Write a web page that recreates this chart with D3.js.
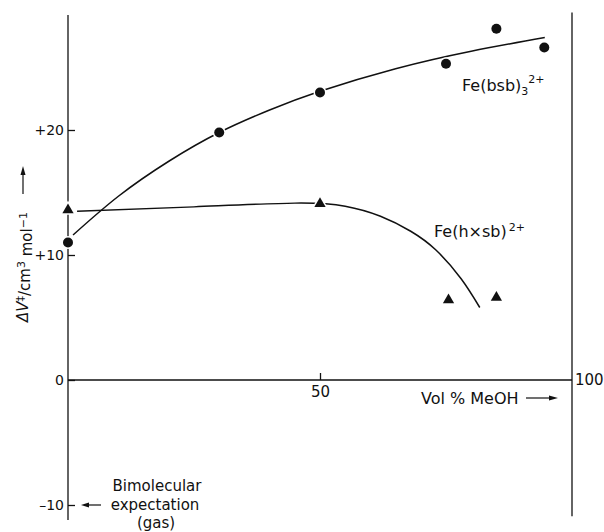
<!DOCTYPE html>
<html>
<head>
<meta charset="utf-8">
<script src="https://cdn.jsdelivr.net/npm/d3@7"></script>
<style>
  body { margin: 0; background: #fff; }
  svg text { font-family: "DejaVu Sans", sans-serif; fill: #111; }
</style>
</head>
<body>
<svg id="chart" width="604" height="532"></svg>
<script>
// measured points
var bsbX = [0, 30, 50, 75, 85, 94.5];
var bsbY = [11, 19.8, 23, 25.3, 28.1, 26.6];
var hxsbX = [0, 50, 75.5, 85];
var hxsbY = [13.6, 14.1, 6.4, 6.6];

// hand drawn fit curves
var bsbFitX = [1, 10, 20, 30, 40, 50, 65, 80, 94.6];
var bsbFitY = [11.6, 14.7, 17.5, 19.8, 21.6, 23.1, 24.9, 26.3, 27.4];
var hxsbFitX = [1.8, 25, 45, 55, 62, 68, 73, 78, 81.7];
var hxsbFitY = [13.5, 13.85, 14.15, 13.9, 13.1, 11.9, 10.4, 8.1, 5.8];

var yTicks = [-10, 0, 10, 20];
var yTickLabels = ['\u201310', '0', '+10', '+20'];
var xTicks = [50];

var svg = d3.select('#chart');
var x = d3.scaleLinear().domain([0, 100]).range([68, 572]);
var y = d3.scaleLinear().domain([-10, 20]).range([505, 130]);

var ink = '#111';

// left axis
svg.append('line')
    .attr('x1', x(0)).attr('x2', x(0))
    .attr('y1', y(29.2)).attr('y2', y(-11.2))
    .attr('stroke', ink).attr('stroke-width', 1.3);
// right frame line
svg.append('line')
    .attr('x1', x(100)).attr('x2', x(100))
    .attr('y1', y(29.4)).attr('y2', y(-10.9))
    .attr('stroke', ink).attr('stroke-width', 1.3);
// zero line
svg.append('line')
    .attr('x1', x(0)).attr('x2', x(100))
    .attr('y1', y(0)).attr('y2', y(0))
    .attr('stroke', ink).attr('stroke-width', 1.3);

var yAxis = svg.append('g')
    .attr('transform', 'translate(' + x(0) + ',0)')
    .call(d3.axisLeft(y).tickValues(yTicks).tickSizeInner(-7).tickSizeOuter(0).tickPadding(4)
        .tickFormat(function(d, i) { return yTickLabels[i]; }));
yAxis.select('.domain').remove();
yAxis.selectAll('line').attr('stroke', ink).attr('stroke-width', 1.3);
yAxis.selectAll('text').attr('font-size', 14).attr('font-family', null);

var xAxis = svg.append('g')
    .attr('transform', 'translate(0,' + y(0) + ')')
    .call(d3.axisBottom(x).tickValues(xTicks).tickSizeInner(-7).tickSizeOuter(0).tickPadding(6));
xAxis.select('.domain').remove();
xAxis.selectAll('line').attr('stroke', ink).attr('stroke-width', 1.3);
xAxis.selectAll('text').attr('font-size', 15).attr('font-family', null);

svg.append('text')
    .attr('x', x(100) + 3).attr('y', y(0)).attr('dy', '0.35em')
    .attr('font-size', 15).text('100');

// x label with arrow
svg.append('text')
    .attr('x', 421).attr('y', 398).attr('dy', '0.35em')
    .attr('font-size', 16).text('Vol % MeOH');
svg.append('line')
    .attr('x1', 526).attr('x2', 553).attr('y1', 398).attr('y2', 398)
    .attr('stroke', ink).attr('stroke-width', 1.2);
svg.append('path')
    .attr('d', 'M558,398 L549,395.5 L549,400.5 Z').attr('fill', ink);

// y label, rotated, arrow up
var yl = svg.append('g').attr('transform', 'translate(23,322) rotate(-90)');
var ylt = yl.append('text').attr('x', 0).attr('y', 0).attr('dy', '0.35em').attr('font-size', 15);
ylt.append('tspan').attr('font-style', 'italic').text('\u0394V');
ylt.append('tspan').attr('dy', '-0.4em').attr('font-size', 11).text('\u2021');
ylt.append('tspan').attr('dy', '0.4em').text('/cm');
ylt.append('tspan').attr('dy', '-0.45em').attr('font-size', 11).text('3');
ylt.append('tspan').attr('dy', '0.45em').text(' mol');
ylt.append('tspan').attr('dy', '-0.45em').attr('font-size', 11).text('\u22121');
yl.append('line').attr('x1', 128).attr('x2', 150).attr('y1', 0).attr('y2', 0)
    .attr('stroke', ink).attr('stroke-width', 1.2);
yl.append('path').attr('d', 'M156,0 L147,-2.5 L147,2.5 Z').attr('fill', ink);

// bimolecular note
var note = svg.append('g').attr('font-size', 15).attr('text-anchor', 'middle');
note.append('text').attr('x', 157).attr('y', 486).attr('dy', '0.35em').text('Bimolecular');
note.append('text').attr('x', 155).attr('y', 505).attr('dy', '0.35em').text('expectation');
note.append('text').attr('x', 156).attr('y', 523).attr('dy', '0.35em').text('(gas)');
svg.append('line').attr('x1', 86).attr('x2', 101).attr('y1', y(-10)).attr('y2', y(-10))
    .attr('stroke', ink).attr('stroke-width', 1.2);
svg.append('path').attr('d', 'M81,' + y(-10) + ' L89,' + (y(-10) - 2.5) + ' L89,' + (y(-10) + 2.5) + ' Z')
    .attr('fill', ink);

// fit curves
var line = d3.line()
    .x(function(d) { return x(d[0]); })
    .y(function(d) { return y(d[1]); })
    .curve(d3.curveNatural);

svg.append('path')
    .datum(d3.zip(bsbFitX, bsbFitY))
    .attr('d', line).attr('fill', 'none').attr('stroke', ink).attr('stroke-width', 1.5);
svg.append('path')
    .datum(d3.zip(hxsbFitX, hxsbFitY))
    .attr('d', line).attr('fill', 'none').attr('stroke', ink).attr('stroke-width', 1.5);

// markers, white outline gives the gap where curves meet them
svg.selectAll('circle.bsb')
    .data(d3.zip(bsbX, bsbY))
    .join('circle')
    .attr('class', 'bsb')
    .attr('cx', function(d) { return x(d[0]); })
    .attr('cy', function(d) { return y(d[1]); })
    .attr('r', 5)
    .attr('fill', ink).attr('stroke', '#fff').attr('stroke-width', 3).attr('paint-order', 'stroke');

var tri = d3.symbol().type(d3.symbolTriangle).size(55);
svg.selectAll('path.hxsb')
    .data(d3.zip(hxsbX, hxsbY))
    .join('path')
    .attr('class', 'hxsb')
    .attr('d', tri)
    .attr('transform', function(d) { return 'translate(' + x(d[0]) + ',' + y(d[1]) + ')'; })
    .attr('fill', ink).attr('stroke', '#fff').attr('stroke-width', 3).attr('paint-order', 'stroke');

// curve labels
var l1 = svg.append('text').attr('x', 462).attr('y', 91).attr('font-size', 16);
l1.append('tspan').text('Fe(bsb)');
l1.append('tspan').attr('dy', '0.35em').attr('font-size', 11).text('3');
l1.append('tspan').attr('dy', '-1.1em').attr('font-size', 11).text('2+');

var l2 = svg.append('text').attr('x', 434).attr('y', 237).attr('font-size', 16);
l2.append('tspan').text('Fe(h\u00d7sb)');
l2.append('tspan').attr('dx', 2).attr('dy', '-0.55em').attr('font-size', 11).text('2+');
</script>
</body>
</html>
